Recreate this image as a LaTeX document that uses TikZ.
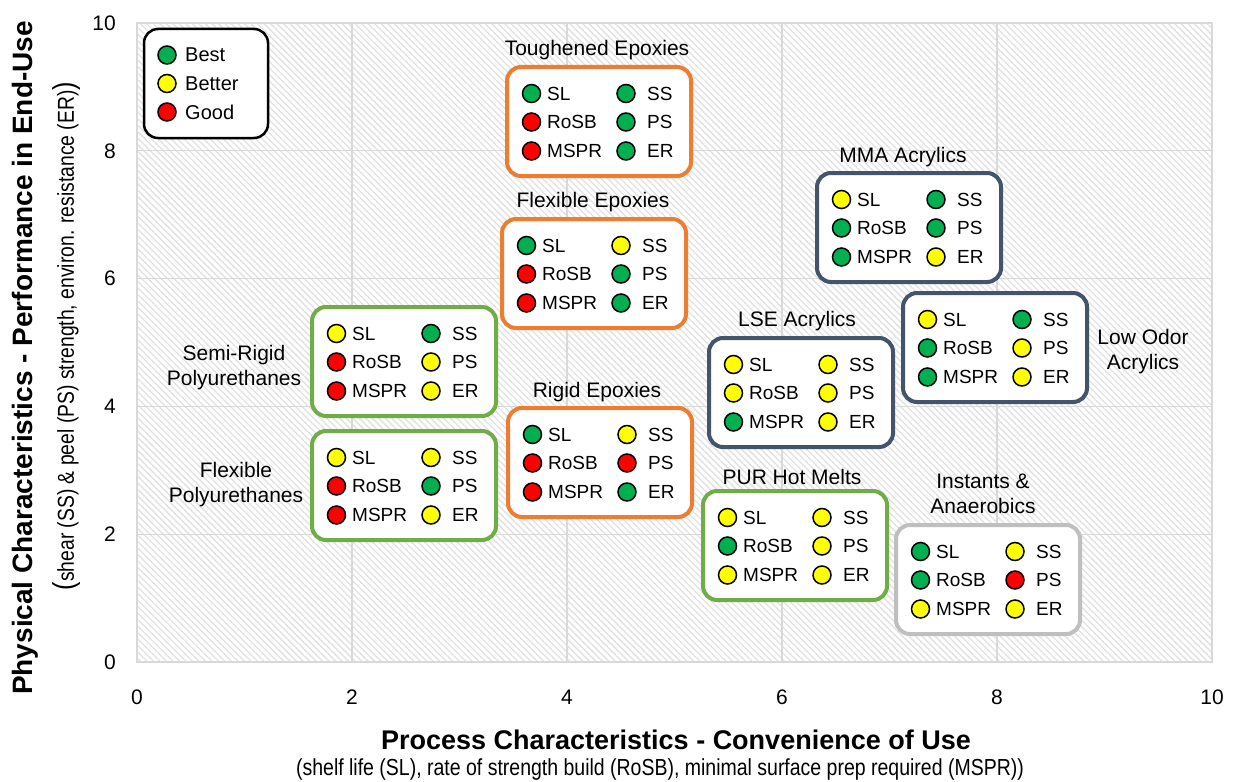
\documentclass[tikz,border=0pt]{standalone}
\usepackage{fontspec}
\setmainfont{Liberation Sans}
\newfontfamily\narrowfont[FakeStretch=0.84]{Liberation Sans}
\usetikzlibrary{patterns.meta}

\definecolor{cgreen}{HTML}{00B050}
\definecolor{cyellow}{HTML}{FFFF00}
\definecolor{cred}{HTML}{FF0000}
\definecolor{corange}{HTML}{ED7D31}
\definecolor{cgrn}{HTML}{70AD47}
\definecolor{cslate}{HTML}{44546A}
\definecolor{cgray}{HTML}{BFBFBF}
\definecolor{gridc}{HTML}{D9D9D9}
\definecolor{hatchc}{HTML}{E2E2E2}

\tikzset{
 grpbox/.style={draw, fill=white, line width=4pt, rounded corners=14pt, minimum width=184pt, minimum height=109pt, inner sep=0pt},
 dot/.style={circle, draw=black, line width=1.5pt, minimum size=18pt, inner sep=0pt},
 item/.style={anchor=west, inner sep=0pt, font=\fontsize{19}{22}\selectfont},
 grptitle/.style={font=\fontsize{21}{25}\selectfont, align=center, inner sep=0pt},
 ticklbl/.style={font=\fontsize{21}{25}\selectfont, inner sep=0pt},
 gridline/.style={draw=gridc, line width=1.3pt},
}

\newcommand\grp[9]{%
 \begin{scope}[shift={#2}]
 \node[grpbox, draw=#3] (#1) at (92,54.5) {};
 \node[dot, fill=#4] (#1-c1) at (24.5,26.5) {};
 \node[item] (#1-t1) at (40,26.5) {SL};
 \node[dot, fill=#5] (#1-c2) at (24.5,55) {};
 \node[item] (#1-t2) at (40,55) {RoSB};
 \node[dot, fill=#6] (#1-c3) at (24.5,84) {};
 \node[item] (#1-t3) at (40,84) {MSPR};
 \node[dot, fill=#7] (#1-c4) at (119,26.5) {};
 \node[item] (#1-t4) at (140,26.5) {SS};
 \node[dot, fill=#8] (#1-c5) at (119,55) {};
 \node[item] (#1-t5) at (140,55) {PS};
 \node[dot, fill=#9] (#1-c6) at (119,84) {};
 \node[item] (#1-t6) at (140,84) {ER};
 \end{scope}}

\begin{document}
\begin{tikzpicture}[x=1pt,y=-1pt]
\useasboundingbox (0,0) rectangle (1238,781);
\fill[white] (0,0) rectangle (1238,781);

% plot area
\fill[pattern={Lines[angle=-45,distance=4.6pt,line width=1.3pt]}, pattern color=hatchc] (137,23) rectangle (1212,662);
\foreach \k in {2,4,6,8} {
  \draw[gridline] ({137+107.5*\k},23) -- ({137+107.5*\k},662);
  \draw[gridline] (137,{662-63.9*\k}) -- (1212,{662-63.9*\k});
}
\draw[draw=gridc, line width=1.3pt] (137,23) rectangle (1212,662);

% tick labels
\foreach \k in {0,2,4,6,8,10} {
  \node[ticklbl] (xt\k) at ({137+107.5*\k},697) {\k};
  \node[ticklbl, anchor=east] (yt\k) at (116,{662-63.9*\k}) {\k};
}

% axis titles
\node[font=\bfseries\fontsize{27}{30}\selectfont, inner sep=0pt] (xtitle) at (676,740) {Process Characteristics - Convenience of Use};
\node[font=\narrowfont\fontsize{23.2}{26}\selectfont, inner sep=0pt] (xsub) at (660,769) {(shelf life (SL), rate of strength build (RoSB), minimal surface prep required (MSPR))};
\node[rotate=90, font=\bfseries\fontsize{28}{30}\selectfont, inner sep=0pt] (ytitle) at (25,358) {Physical Characteristics - Performance in End-Use};
\node[rotate=90, font=\narrowfont\fontsize{23}{26}\selectfont, inner sep=0pt] (ysub) at (66,336) {{\fontsize{30}{32}\selectfont(}shear (SS) \& peel (PS) strength, environ. resistance (ER){\fontsize{30}{32}\selectfont)}};

% legend
\node[draw=black, fill=white, line width=2.5pt, rounded corners=14pt, minimum width=124pt, minimum height=109pt, inner sep=0pt] (legend) at (206,83.5) {};
\node[dot, fill=cgreen] (lg1) at (167,55) {};
\node[dot, fill=cyellow] (lg2) at (167,83.5) {};
\node[dot, fill=cred] (lg3) at (167,112) {};
\node[item, font=\fontsize{20}{24}\selectfont] (lt1) at (185,55) {Best};
\node[item, font=\fontsize{20}{24}\selectfont] (lt2) at (185,83.5) {Better};
\node[item, font=\fontsize{20}{24}\selectfont] (lt3) at (185,112) {Good};

% groups
\grp{tough}{(507,67)}{corange}{cgreen}{cred}{cred}{cgreen}{cgreen}{cgreen}
\node[grptitle] (toughT) at (597,50) {Toughened Epoxies};
\grp{flexep}{(502,219)}{corange}{cgreen}{cred}{cred}{cyellow}{cgreen}{cgreen}
\node[grptitle] (flexepT) at (593,202) {Flexible Epoxies};
\grp{rigid}{(508,408)}{corange}{cgreen}{cred}{cred}{cyellow}{cred}{cgreen}
\node[grptitle] (rigidT) at (597,392) {Rigid Epoxies};
\grp{semi}{(312,307)}{cgrn}{cyellow}{cred}{cred}{cgreen}{cyellow}{cyellow}
\node[grptitle] (semiT) at (234,368) {Semi-Rigid\\Polyurethanes};
\grp{flexpu}{(312,431)}{cgrn}{cyellow}{cred}{cred}{cyellow}{cgreen}{cyellow}
\node[grptitle] (flexpuT) at (236,485) {Flexible\\Polyurethanes};
\grp{mma}{(817,173)}{cslate}{cyellow}{cgreen}{cgreen}{cgreen}{cgreen}{cyellow}
\node[grptitle] (mmaT) at (903,157) {MMA Acrylics};
\grp{lowodor}{(903,293)}{cslate}{cyellow}{cgreen}{cgreen}{cgreen}{cyellow}{cyellow}
\node[grptitle] (lowodorT) at (1143,352) {Low Odor\\Acrylics};
\grp{lse}{(709,338)}{cslate}{cyellow}{cyellow}{cgreen}{cyellow}{cyellow}{cyellow}
\node[grptitle] (lseT) at (797,321) {LSE Acrylics};
\grp{pur}{(703,491)}{cgrn}{cyellow}{cgreen}{cyellow}{cyellow}{cyellow}{cyellow}
\node[grptitle] (purT) at (792,477) {PUR Hot Melts};
\grp{inst}{(896,525)}{cgray}{cgreen}{cgreen}{cyellow}{cyellow}{cred}{cyellow}
\node[grptitle] (instT) at (983,494) {Instants \&\\Anaerobics};
\end{tikzpicture}
\end{document}
